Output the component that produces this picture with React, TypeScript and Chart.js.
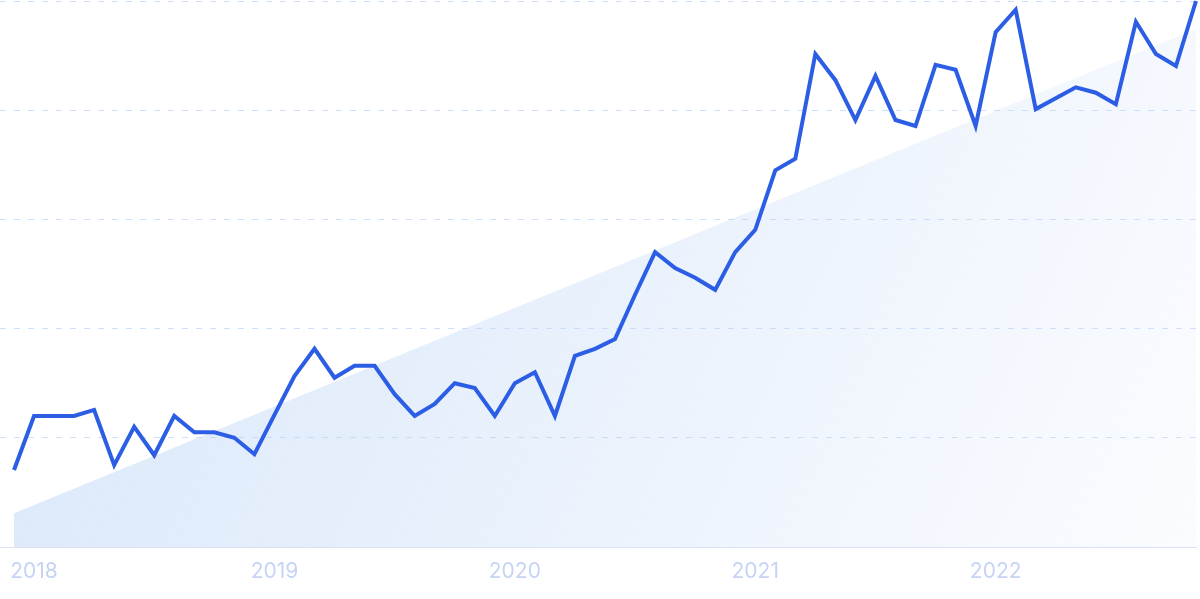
import React, { useEffect, useRef } from "react";
import { Chart, registerables } from "chart.js";

Chart.register(...registerables);

const months: string[] = [
  "2017-12",
  "2018-01", "2018-02", "2018-03", "2018-04", "2018-05", "2018-06", "2018-07", "2018-08", "2018-09", "2018-10", "2018-11", "2018-12",
  "2019-01", "2019-02", "2019-03", "2019-04", "2019-05", "2019-06", "2019-07", "2019-08", "2019-09", "2019-10", "2019-11", "2019-12",
  "2020-01", "2020-02", "2020-03", "2020-04", "2020-05", "2020-06", "2020-07", "2020-08", "2020-09", "2020-10", "2020-11", "2020-12",
  "2021-01", "2021-02", "2021-03", "2021-04", "2021-05", "2021-06", "2021-07", "2021-08", "2021-09", "2021-10", "2021-11", "2021-12",
  "2022-01", "2022-02", "2022-03", "2022-04", "2022-05", "2022-06", "2022-07", "2022-08", "2022-09", "2022-10", "2022-11",
];

const searchVolume: number[] = [
  14.1, 24, 24, 24, 25.1, 15, 22, 16.8, 24, 21, 21, 20,
  17, 24.2, 31.3, 36.3, 31, 33.2, 33.2, 28, 24, 26.2, 30, 29.1,
  24, 30, 32, 24, 35, 36.3, 38.1, 46.2, 54, 51.1, 49.3, 47.1,
  54, 58.1, 69, 71.1, 90.3, 85.5, 78.2, 86.3, 78.2, 77.1, 88.3, 87.4,
  77.1, 94.3, 98.4, 80.2, 82.2, 84.2, 83.2, 81.1, 96.2, 90.3, 88.1, 100,
];

const trendStartEnd: number[] = [6.2, 94.9];

const yTicks: number[] = [0, 20, 40, 60, 80, 100];

export default function App() {
  const canvasRef = useRef<HTMLCanvasElement | null>(null);

  useEffect(() => {
    const canvas = canvasRef.current;
    if (!canvas) return;
    const chart = new Chart(canvas, {
      type: "line",
      data: {
        labels: months,
        datasets: [
          {
            label: "Searches",
            data: searchVolume,
            borderColor: "#2c5de5",
            borderWidth: 4,
            pointRadius: 0,
            pointHoverRadius: 0,
            tension: 0,
            fill: false,
            clip: 4,
          },
          {
            label: "Trend",
            data: [
              { x: months[0], y: trendStartEnd[0] },
              { x: months[months.length - 1], y: trendStartEnd[1] },
            ] as any,
            borderWidth: 0,
            borderColor: "rgba(0,0,0,0)",
            pointRadius: 0,
            fill: "origin",
            backgroundColor: (ctx: any) => {
              const area = ctx.chart.chartArea;
              if (!area) return "rgba(190,212,245,0.45)";
              const g = ctx.chart.ctx.createLinearGradient(area.left, area.top, area.right, area.bottom);
              g.addColorStop(0, "rgba(185,210,245,0.55)");
              g.addColorStop(0.5, "rgba(190,214,246,0.35)");
              g.addColorStop(1, "rgba(210,225,250,0.12)");
              return g;
            },
          },
        ],
      },
      options: {
        animation: false,
        responsive: false,
        maintainAspectRatio: false,
        layout: { padding: { top: 1, right: 4, bottom: 15, left: 0 } },
        plugins: {
          legend: { display: false },
          tooltip: { enabled: false },
        },
        scales: {
          x: {
            type: "category",
            offset: false,
            grid: { display: false, drawTicks: false },
            border: { display: true, color: "#d9e2f6", width: 1 },
            ticks: {
              autoSkip: false,
              maxRotation: 0,
              padding: 12,
              color: "#c6d3f4",
              font: { family: "Inter", size: 21 },
              callback: (_v: any, i: number) =>
                months[i].endsWith("-01") ? months[i].slice(0, 4) : "",
            },
            afterFit: (axis: any) => {
              axis.height = 37;
              axis.paddingLeft = 0;
              axis.paddingRight = 0;
            },
          },
          y: {
            min: yTicks[0],
            max: yTicks[yTicks.length - 1],
            afterBuildTicks: (axis: any) => {
              axis.ticks = yTicks.map((v) => ({ value: v }));
            },
            ticks: { display: false },
            border: { display: false, dash: [6, 8] },
            grid: {
              drawTicks: true,
              tickLength: 14,
              color: (ctx: any) => (ctx.tick && ctx.tick.value === 0 ? "rgba(0,0,0,0)" : "#cde0fb"),
              tickColor: (ctx: any) => (ctx.tick && ctx.tick.value === 0 ? "#d9e2f6" : "#cde0fb"),
              tickBorderDash: (ctx: any) => (ctx.tick && ctx.tick.value === 0 ? [] : [6, 8]),
              lineWidth: 1,
            },
            afterFit: (axis: any) => {
              axis.width = 14;
              axis.paddingTop = 0;
              axis.paddingBottom = 0;
            },
          },
        },
      },
    });
    return () => chart.destroy();
  }, []);

  return (
    <div style={{ position: "fixed", left: 0, top: 0, width: 1200, height: 599, background: "#ffffff" }}>
      <canvas ref={canvasRef} width={1200} height={599} style={{ display: "block", width: 1200, height: 599 }} />
    </div>
  );
}
